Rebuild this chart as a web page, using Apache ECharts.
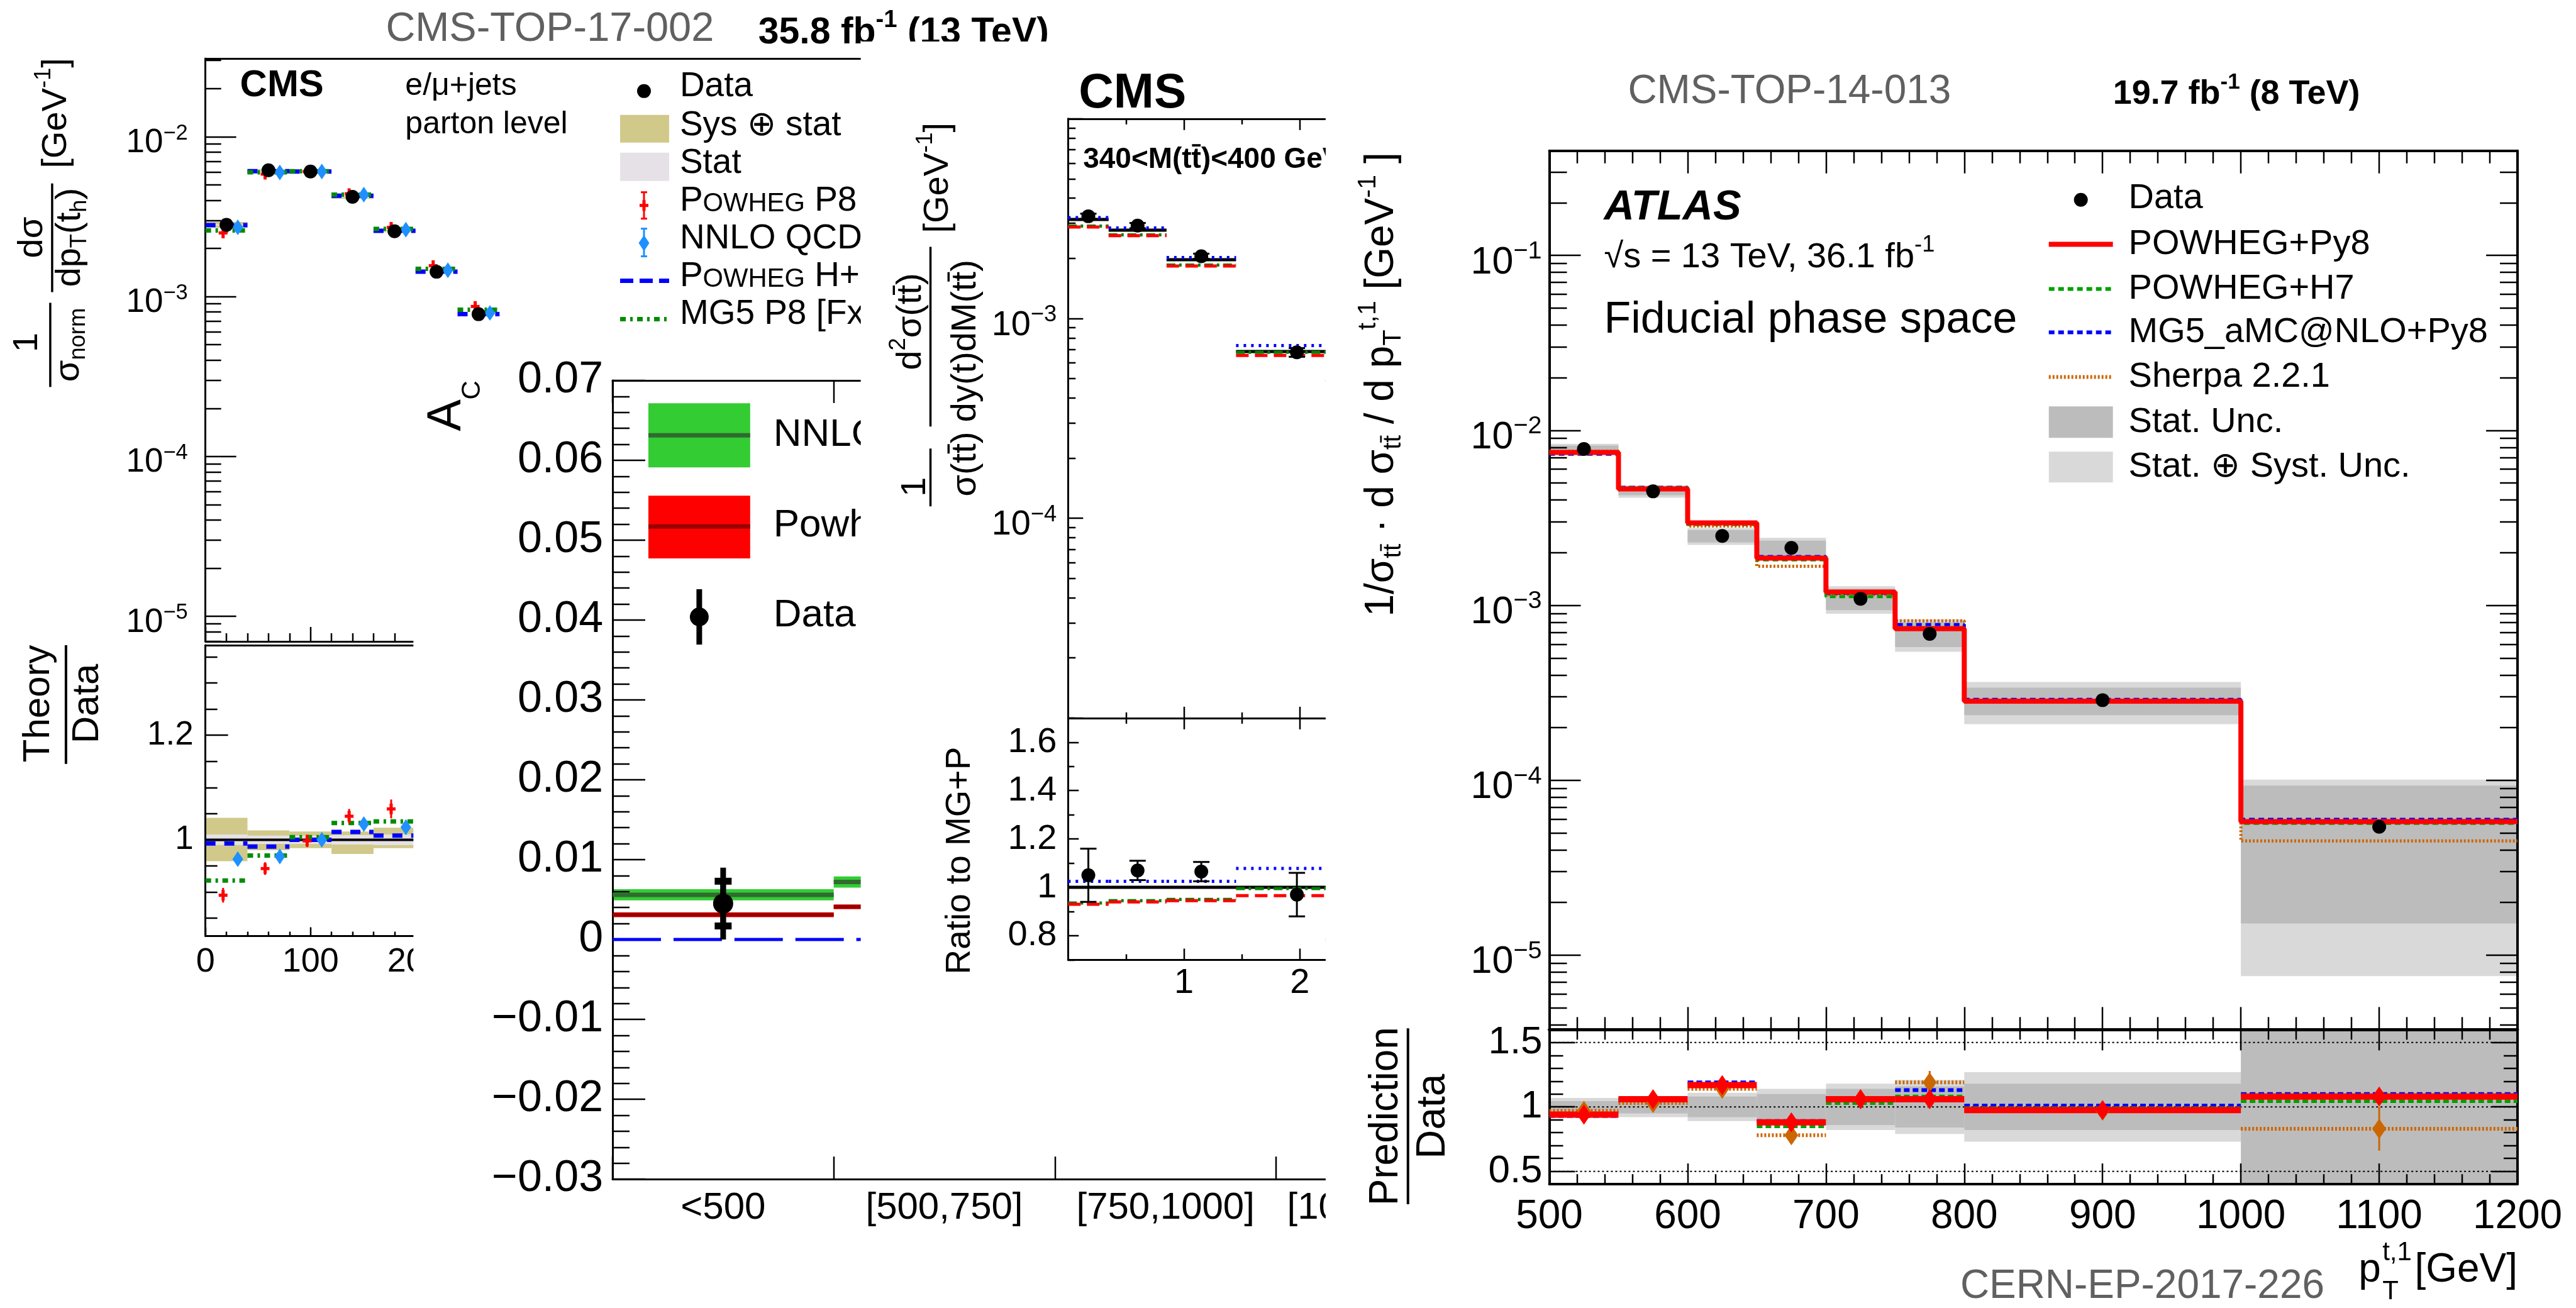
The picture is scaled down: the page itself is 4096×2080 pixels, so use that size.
<!DOCTYPE html>
<html>
<head>
<meta charset="utf-8">
<title>Top-quark differential measurements</title>
<script src="https://cdn.jsdelivr.net/npm/echarts@6.0.0/dist/echarts.min.js"></script>
<style>
html, body { margin: 0; padding: 0; background: #ffffff; overflow: hidden; }
#chart { width: 4096px; height: 2080px; }
</style>
</head>
<body>
<div id="chart"></div>
<script>
// ====================== DATA ======================
// Panel A : CMS-TOP-17-002, normalised d(sigma)/d pT(t_h), parton level
const aBinEdges   = [0, 40, 80, 120, 160, 200, 240, 280];
const aData       = [2.81e-3, 6.17e-3, 6.06e-3, 4.21e-3, 2.56e-3, 1.43e-3, 7.76e-4];
const aPowhegP8   = [2.50e-3, 5.83e-3, 6.05e-3, 4.40e-3, 2.71e-3, 1.56e-3, 8.67e-4];
const aPowhegP8Err= [0.014, 0.012, 0.012, 0.014, 0.018, 0.020, 0.025];
const aNNLO       = [2.71e-3, 5.97e-3, 6.06e-3, 4.34e-3, 2.62e-3, 1.46e-3, 7.90e-4];
const aNNLOErr    = [0.012, 0.010, 0.010, 0.012, 0.014, 0.016, 0.020];
const aPowhegHpp  = [2.80e-3, 6.09e-3, 6.06e-3, 4.27e-3, 2.58e-3, 1.43e-3, 7.76e-4];
const aMG5FxFx    = [2.59e-3, 5.99e-3, 6.09e-3, 4.34e-3, 2.65e-3, 1.49e-3, 8.28e-4];
const aRatioP8    = [0.894, 0.945, 0.998, 1.045, 1.059];
const aRatioP8Err = [0.014, 0.012, 0.012, 0.014, 0.018];
const aRatioNNLO  = [0.963, 0.968, 1.000, 1.030, 1.024];
const aRatioNNLOErr = [0.012, 0.010, 0.010, 0.012, 0.014];
const aRatioHpp   = [0.993, 0.987, 1.000, 1.015, 1.008];
const aRatioMG5   = [0.922, 0.970, 1.005, 1.032, 1.035];
const aSysUp      = [0.042, 0.018, 0.016, 0.016, 0.023];
const aSysDn      = [0.041, 0.020, 0.016, 0.027, 0.016];
const aStat       = [0.010, 0.008, 0.008, 0.009, 0.010];
const aXTickLabels = [0, 100, 200, 300, 400, 500, 600];
const aYDecades    = [-5, -4, -3, -2];
const aRatioTickLabels = [1, 1.2];

// Panel B : charge asymmetry A_C vs M(tt)
const acCategories = ['<500', '[500,750]', '[750,1000]', '[1000,1500]'];
const acNNLO      = [0.0056, 0.0072];
const acNNLOUnc   = [0.0007, 0.0007];
const acPowheg    = [0.0031, 0.0041];
const acPowhegUnc = [0.0003, 0.0003];
const acData      = [0.0045];
const acDataStat  = [0.0028];
const acDataTot   = [0.0045];
const acZeroLine  = 0;
const acYTicks    = [-0.03, -0.02, -0.01, 0, 0.01, 0.02, 0.03, 0.04, 0.05, 0.06, 0.07];

// Panel C : CMS, 340 < M(tt) < 400 GeV, vs y(t)
const cBinEdges     = [0, 0.35, 0.85, 1.45, 2.5];
const cData         = [3.25e-3, 2.92e-3, 2.05e-3, 6.77e-4];
const cDataErr      = [0.03, 0.03, 0.03, 0.05];
const cMGP          = [3.13e-3, 2.77e-3, 1.97e-3, 6.84e-4];
const cBlueDotted   = [3.20e-3, 2.84e-3, 2.02e-3, 7.32e-4];
const cRedDashed    = [2.87e-3, 2.60e-3, 1.83e-3, 6.53e-4];
const cGreenDashDot = [2.90e-3, 2.62e-3, 1.85e-3, 6.77e-4];
const cRatioData    = [1.05, 1.07, 1.065, 0.97];
const cRatioDataErr = [0.11, 0.04, 0.04, 0.09];
const cRatioBlue    = [1.025, 1.025, 1.025, 1.078];
const cRatioRed     = [0.930, 0.940, 0.945, 0.966];
const cRatioGreen   = [0.935, 0.945, 0.950, 0.995];
const cXTickLabels  = [1, 2];
const cYDecades     = [-5, -4, -3, -2];
const cYLabelled    = [-4, -3];
const cRatioTickLabels = [0.8, 1, 1.2, 1.4, 1.6];

// Panel D : ATLAS, 1/sigma dsigma/dpT(t,1), fiducial
const dBinEdges      = [500, 550, 600, 650, 700, 750, 800, 1000, 1200];
const dData          = [7.83e-3, 4.48e-3, 2.49e-3, 2.13e-3, 1.09e-3, 6.87e-4, 2.87e-4, 5.42e-5];
const dPowhegPy8     = [7.48e-3, 4.63e-3, 2.96e-3, 1.86e-3, 1.19e-3, 7.35e-4, 2.83e-4, 5.80e-5];
const dPowhegH7      = [7.40e-3, 4.70e-3, 2.90e-3, 1.82e-3, 1.12e-3, 7.45e-4, 2.84e-4, 5.67e-5];
const dMG5Py8        = [7.30e-3, 4.72e-3, 2.96e-3, 1.90e-3, 1.17e-3, 7.75e-4, 2.90e-4, 5.97e-5];
const dSherpa        = [7.60e-3, 4.62e-3, 2.84e-3, 1.67e-3, 1.15e-3, 8.15e-4, 2.79e-4, 4.50e-5];
const dStatRel       = [0.045, 0.05, 0.08, 0.10, 0.14, 0.16, 0.18, 0.72];
const dTotRel        = [0.07, 0.08, 0.11, 0.14, 0.18, 0.21, 0.27, 0.86];
const dRatioPowhegPy8= [0.94, 1.06, 1.17, 0.88, 1.06, 1.06, 0.975, 1.08];
const dRatioPowhegH7 = [0.94, 1.05, 1.17, 0.85, 1.03, 1.08, 0.99, 1.045];
const dRatioMG5Py8   = [0.93, 1.06, 1.19, 0.89, 1.07, 1.13, 1.01, 1.10];
const dRatioSherpa   = [0.97, 1.03, 1.14, 0.78, 1.06, 1.19, 0.97, 0.83];
const dRatioPy8Err   = [0.02, 0.02, 0.03, 0.03, 0.03, 0.05, 0.03, 0.05];
const dRatioSherpaErr= [0.03, 0.03, 0.04, 0.04, 0.03, 0.09, 0.03, 0.17];
const dRatioRefLines = [0.5, 1, 1.5];
const dXTickLabels   = [500, 600, 700, 800, 900, 1000, 1100, 1200];
const dYDecades      = [-5, -4, -3, -2, -1];
const dRatioTickLabels = [0.5, 1, 1.5];

// ====================== HELPERS ======================
const S = 0.999;
const px = v => v * S;
const FONT = '"Liberation Sans", Arial, Helvetica, sans-serif';
const L10 = Math.log10;

function stepTicks(a, b, step, excl) {
  const out = []; const n = Math.round((b - a) / step);
  for (let i = 0; i <= n; i++) {
    const v = +(a + i * step).toFixed(6);
    if (!excl || !excl.some(e => Math.abs(e - v) < 1e-9)) out.push(v);
  }
  return out;
}
function logMinor(lo, hi) {
  const out = [];
  for (let n = Math.floor(lo) - 1; n <= Math.ceil(hi); n++)
    for (let k = 2; k <= 9; k++) { const v = n + L10(k); if (v > lo && v < hi) out.push(v); }
  return out;
}
const cen = (e, i, f) => (e[i] + e[i + 1]) / 2 + (f || 0) * (e[i + 1] - e[i]);

function axRich(F) {
  const f = px(F);
  return {
    m: {fontSize: f, fontFamily: FONT, color: '#000', lineHeight: f, padding: [0.38 * f, 0, 0, 0], verticalAlign: 'middle'},
    s: {fontSize: 0.65 * f, fontFamily: FONT, color: '#000', lineHeight: 0.65 * f, padding: [0, 0, 0.2 * f, 0], verticalAlign: 'middle'}
  };
}
const pow10 = v => '{m|10}{s|\u2212' + Math.round(-v) + '}';
const plain = v => String(v);

const xAxes = [], yAxes = [], series = [], graphics = [];
function ax(o) {
  const a = {
    type: 'value', gridIndex: o.g, position: o.pos, min: o.min, max: o.max, z: o.z, silent: true,
    axisLine: {show: !!o.line, onZero: false, lineStyle: {color: '#000', width: px(o.lw || 3)}},
    axisTick: o.ticks ? {show: true, inside: true, length: px(o.len), customValues: o.ticks,
      lineStyle: {color: '#000', width: px(o.tw || 2.5)}} : {show: false},
    axisLabel: {show: false},
    splitLine: {show: false}, minorTick: {show: false}, minorSplitLine: {show: false}
  };
  if (o.labels) a.axisLabel = {show: true, customValues: o.labels, formatter: o.fmt, margin: px(o.margin),
    fontSize: px(o.fs), fontFamily: FONT, color: '#000', rich: o.rich};
  return a;
}
const addX = o => { xAxes.push(ax(o)); return xAxes.length - 1; };
const addY = o => { yAxes.push(ax(o)); return yAxes.length - 1; };

function segSeries(xi, yi, segs, st, z) {
  return {type: 'custom', xAxisIndex: xi, yAxisIndex: yi, z, silent: true, clip: true, data: segs,
    renderItem(params, api) {
      const a = api.coord([api.value(0), api.value(2)]), b = api.coord([api.value(1), api.value(2)]);
      return {type: 'line', shape: {x1: a[0], y1: a[1], x2: b[0], y2: b[1]},
        style: {stroke: st.color, lineWidth: px(st.w), lineDash: st.dash ? st.dash.map(px) : null, lineCap: 'butt'}};
    }};
}
function bandSeries(xi, yi, rects, fill, z) {
  return {type: 'custom', xAxisIndex: xi, yAxisIndex: yi, z, silent: true, clip: true, data: rects,
    renderItem(params, api) {
      const a = api.coord([api.value(0), api.value(3)]), b = api.coord([api.value(1), api.value(2)]);
      return {type: 'rect', shape: {x: a[0], y: a[1], width: b[0] - a[0], height: b[1] - a[1]}, style: {fill}};
    }};
}
function markerSeries(xi, yi, pts, m, z) {
  return {type: 'custom', xAxisIndex: xi, yAxisIndex: yi, z, silent: true, clip: !!m.clip, data: pts,
    renderItem(params, api) {
      const x = api.value(0);
      const c = api.coord([x, api.value(1)]);
      const kids = [];
      const col = m.color;
      if (m.errW) {
        const lo = api.coord([x, api.value(2)]), hi = api.coord([x, api.value(3)]);
        kids.push({type: 'line', shape: {x1: c[0], y1: lo[1], x2: c[0], y2: hi[1]}, style: {stroke: col, lineWidth: px(m.errW)}});
        if (m.capW) {
          const h = px(m.capW) / 2;
          [lo, hi].forEach(p => kids.push({type: 'line', shape: {x1: c[0] - h, y1: p[1], x2: c[0] + h, y2: p[1]},
            style: {stroke: col, lineWidth: px(m.capT || m.errW)}}));
        }
      }
      const w = px(m.w || 0), h = px(m.h || m.w || 0);
      if (m.shape === 'circle') kids.push({type: 'circle', shape: {cx: c[0], cy: c[1], r: w / 2}, style: {fill: col}});
      else if (m.shape === 'diamond') kids.push({type: 'polygon', shape: {points: [[c[0], c[1] - h / 2], [c[0] + w / 2, c[1]], [c[0], c[1] + h / 2], [c[0] - w / 2, c[1]]]}, style: {fill: col}});
      else if (m.shape === 'cross') {
        const t = px(m.t);
        kids.push({type: 'rect', shape: {x: c[0] - w / 2, y: c[1] - t / 2, width: w, height: t}, style: {fill: col}});
        kids.push({type: 'rect', shape: {x: c[0] - t / 2, y: c[1] - h / 2, width: t, height: h}, style: {fill: col}});
      }
      return {type: 'group', children: kids};
    }};
}
function stepSeries(xi, yi, edges, vals, st, z) {
  const pts = vals.map((v, i) => [edges[i], L10(v)]);
  pts.push([edges[edges.length - 1], L10(vals[vals.length - 1])]);
  return {type: 'line', xAxisIndex: xi, yAxisIndex: yi, z, silent: true, step: 'end', symbol: 'none',
    data: pts, clip: true, lineStyle: {color: st.color, width: px(st.w), type: st.dash ? st.dash.map(px) : 'solid', cap: 'butt'}};
}

// graphic helpers
function rs(f, o) {
  const base = {fontFamily: o.family || FONT, fontWeight: o.weight || 'normal', fontStyle: o.italic ? 'italic' : 'normal',
    fill: o.color || '#000', verticalAlign: 'middle'};
  return {
    m: Object.assign({}, base, {fontSize: f, lineHeight: f}),
    s: Object.assign({}, base, {fontSize: 0.65 * f, lineHeight: 0.65 * f, padding: [0, 0, 0.7 * f, 0]}),
    b: Object.assign({}, base, {fontSize: 0.65 * f, lineHeight: 0.65 * f, padding: [0.55 * f, 0, 0, 0]}),
    k: Object.assign({}, base, {fontSize: 0.76 * f, lineHeight: 0.76 * f, padding: [0.17 * f, 0, 0, 0]})
  };
}
function gtext(x, y, text, F, o) {
  o = o || {};
  const f = px(F);
  return {type: 'text', x: px(x), y: px(y), rotation: o.rot ? Math.PI / 2 : 0, z: o.z, silent: true,
    style: {text, x: 0, y: 0, fontSize: f, fontFamily: o.family || FONT, fontWeight: o.weight || 'normal',
      fontStyle: o.italic ? 'italic' : 'normal', fill: o.color || '#000',
      align: o.align || 'left', verticalAlign: 'middle', rich: rs(f, o)}};
}
const gline = (x1, y1, x2, y2, color, w, z, dash) => ({type: 'line', z, silent: true,
  shape: {x1: px(x1), y1: px(y1), x2: px(x2), y2: px(y2)},
  style: {stroke: color, lineWidth: px(w), lineDash: dash ? dash.map(px) : null}});
const grect = (x, y, w, h, fill, z) => ({type: 'rect', z, silent: true, shape: {x: px(x), y: px(y), width: px(w), height: px(h)}, style: {fill}});
const gcircle = (cx, cy, r, fill, z) => ({type: 'circle', z, silent: true, shape: {cx: px(cx), cy: px(cy), r: px(r)}, style: {fill}});
const gpoly = (pts, fill, z) => ({type: 'polygon', z, silent: true, shape: {points: pts.map(p => [px(p[0]), px(p[1])])}, style: {fill}});

// ====================== GRIDS ======================
const GR = [
  [327, 93, 1070, 928],      // 0 A top
  [327, 1027, 1070, 463],    // 1 A ratio
  [975, 605.5, 1408, 1271.5],// 2 B
  [1700, 189, 461, 954],     // 3 C top
  [1700, 1143, 461, 385],    // 4 C ratio
  [2466, 240, 1541, 1399],   // 5 D top
  [2466, 1639, 1541, 246]    // 6 D ratio
];
const grids = GR.map(g => ({left: px(g[0]), top: px(g[1]), width: px(g[2]), height: px(g[3]), containLabel: false, show: false}));

const KHAKI = '#d0c98a', LAV = '#e6e1e7';

// ====================== PANEL A ======================
{
  const Z = 3;
  const aYmin = -5.157, aYmax = -1.5104, aRmin = 0.816, aRmax = 1.372;
  const x = addX({g: 0, pos: 'bottom', min: 0, max: 640, z: Z, line: true, ticks: aXTickLabels, len: 23});
  addX({g: 0, pos: 'bottom', min: 0, max: 640, z: Z, ticks: stepTicks(0, 640, 20, aXTickLabels), len: 13});
  addX({g: 0, pos: 'top', min: 0, max: 640, z: Z, line: true});
  const y = addY({g: 0, pos: 'left', min: aYmin, max: aYmax, z: Z, line: true, ticks: aYDecades, len: 49,
    labels: aYDecades, fmt: pow10, fs: 53, margin: 28, rich: axRich(53)});
  addY({g: 0, pos: 'left', min: aYmin, max: aYmax, z: Z, ticks: logMinor(aYmin, aYmax), len: 25});
  const rx = addX({g: 1, pos: 'bottom', min: 0, max: 640, z: Z, line: true, ticks: aXTickLabels, len: 14,
    labels: aXTickLabels, fmt: plain, fs: 54, margin: 15});
  addX({g: 1, pos: 'bottom', min: 0, max: 640, z: Z, ticks: stepTicks(0, 640, 20, aXTickLabels), len: 7});
  addX({g: 1, pos: 'top', min: 0, max: 640, z: Z, line: true});
  const ry = addY({g: 1, pos: 'left', min: aRmin, max: aRmax, z: Z, line: true, ticks: aRatioTickLabels, len: 36,
    labels: aRatioTickLabels, fmt: plain, fs: 53, margin: 19});
  addY({g: 1, pos: 'left', min: aRmin, max: aRmax, z: Z, ticks: stepTicks(0.85, 1.35, 0.05, aRatioTickLabels), len: 19});

  const E = aBinEdges;
  // top pad
  series.push(bandSeries(x, y, aSysUp.map((u, i) => [E[i], E[i + 1], L10(aData[i] * (1 - aSysDn[i])), L10(aData[i] * (1 + u))]), KHAKI, 2));
  series.push(bandSeries(x, y, aStat.map((s, i) => [E[i], E[i + 1], L10(aData[i] * (1 - s)), L10(aData[i] * (1 + s))]), LAV, 2));
  series.push(segSeries(x, y, aPowhegHpp.map((v, i) => [E[i], E[i + 1], L10(v)]), {color: '#0000ff', w: 7, dash: [16, 14]}, 4));
  series.push(segSeries(x, y, aMG5FxFx.map((v, i) => [E[i], E[i + 1], L10(v)]), {color: '#008c00', w: 7, dash: [9, 7, 4, 7]}, 4));
  series.push(markerSeries(x, y, aPowhegP8.map((v, i) => [cen(E, i, -0.08), L10(v), L10(v * (1 - aPowhegP8Err[i])), L10(v * (1 + aPowhegP8Err[i]))]),
    {shape: 'cross', w: 14, h: 17, t: 5, color: '#ff0000', errW: 3}, 5));
  series.push(markerSeries(x, y, aNNLO.map((v, i) => [cen(E, i, 0.27), L10(v), L10(v * (1 - aNNLOErr[i])), L10(v * (1 + aNNLOErr[i]))]),
    {shape: 'diamond', w: 17, h: 25, color: '#1e90ff', errW: 3}, 5));
  series.push(markerSeries(x, y, aData.map((v, i) => [cen(E, i, 0), L10(v), L10(v), L10(v)]), {shape: 'circle', w: 22, color: '#000'}, 6));
  // ratio pad
  series.push(bandSeries(rx, ry, aSysUp.map((u, i) => [E[i], E[i + 1], 1 - aSysDn[i], 1 + u]), KHAKI, 2));
  series.push(bandSeries(rx, ry, aStat.map((s, i) => [E[i], E[i + 1], 1 - s, 1 + s]), LAV, 2));
  series.push(segSeries(rx, ry, [[0, 640, 1]], {color: '#000', w: 4}, 4));
  series.push(segSeries(rx, ry, aRatioHpp.map((v, i) => [E[i], E[i + 1], v]), {color: '#0000ff', w: 7, dash: [16, 14]}, 4));
  series.push(segSeries(rx, ry, aRatioMG5.map((v, i) => [E[i], E[i + 1], v]), {color: '#008c00', w: 7, dash: [9, 7, 4, 7]}, 4));
  series.push(markerSeries(rx, ry, aRatioP8.map((v, i) => [cen(E, i, -0.08), v, v - aRatioP8Err[i], v + aRatioP8Err[i]]),
    {shape: 'cross', w: 14, h: 17, t: 5, color: '#ff0000', errW: 3}, 5));
  series.push(markerSeries(rx, ry, aRatioNNLO.map((v, i) => [cen(E, i, 0.27), v, v - aRatioNNLOErr[i], v + aRatioNNLOErr[i]]),
    {shape: 'diamond', w: 17, h: 25, color: '#1e90ff', errW: 3}, 5));

  const T = 8;
  graphics.push(gtext(614, 47, '{m|CMS-TOP-17-002}', 65, {color: '#606060', z: T}));
  graphics.push(gtext(1207, 53, '{m|35.8 fb}{s|-1}{m| (13 TeV)}', 59, {weight: 'bold', z: T}));
  graphics.push(gtext(382, 137, '{m|CMS}', 60, {weight: 'bold', z: T}));
  graphics.push(gtext(645, 137, '{m|e/\u03bc+jets}', 50, {z: T}));
  graphics.push(gtext(645, 198, '{m|parton level}', 50, {z: T}));
  // legend
  graphics.push(gcircle(1025, 145, 11, '#000', T));
  graphics.push(grect(987, 183, 78, 44, KHAKI, T));
  graphics.push(grect(987, 243, 78, 45, LAV, T));
  graphics.push(gline(1025, 306, 1025, 348, '#ff0000', 3, T), gline(1020, 306, 1030, 306, '#ff0000', 3, T), gline(1020, 348, 1030, 348, '#ff0000', 3, T));
  graphics.push(grect(1018, 324.5, 14, 5, '#ff0000', T), grect(1022.5, 318.5, 5, 17, '#ff0000', T));
  graphics.push(gline(1025, 364, 1025, 408, '#1e90ff', 3, T), gline(1020, 364, 1030, 364, '#1e90ff', 3, T), gline(1020, 408, 1030, 408, '#1e90ff', 3, T));
  graphics.push(gpoly([[1025, 374], [1033.5, 387], [1025, 400], [1016.5, 387]], '#1e90ff', T));
  graphics.push(gline(987, 447, 1065, 447, '#0000ff', 7, T, [21, 10]));
  graphics.push(gline(987, 508, 1065, 508, '#008c00', 7, T, [9, 7, 4, 7]));
  const LX = 1082;
  graphics.push(gtext(LX, 138, '{m|Data}', 55, {z: T}));
  graphics.push(gtext(LX, 200, '{m|Sys \u2295 stat}', 55, {z: T}));
  graphics.push(gtext(LX, 260, '{m|Stat}', 55, {z: T}));
  graphics.push(gtext(LX, 320, '{m|P}{k|OWHEG}{m| P8}', 55, {z: T}));
  graphics.push(gtext(LX, 380, '{m|NNLO QCD}', 55, {z: T}));
  graphics.push(gtext(LX, 440, '{m|P}{k|OWHEG}{m| H++}', 55, {z: T}));
  graphics.push(gtext(LX, 500, '{m|MG5 P8 [FxFx]}', 55, {z: T}));
  // y titles
  graphics.push(gtext(90, 180, '{m|[GeV}{s|-1}{m|]}', 56, {rot: true, align: 'center', z: T}));
  graphics.push(gtext(52, 378, '{m|d\u03c3}', 56, {rot: true, align: 'center', z: T}));
  graphics.push(gline(83, 292, 83, 465, '#000', 3.5, T));
  graphics.push(gtext(112, 378, '{m|dp}{b|T}{m|(t}{b|h}{m|)}', 56, {rot: true, align: 'center', z: T}));
  graphics.push(gtext(44, 545, '{m|1}', 56, {rot: true, align: 'center', z: T}));
  graphics.push(gline(80, 482, 80, 616, '#000', 3.5, T));
  graphics.push(gtext(110, 549, '{m|\u03c3}{b|norm}', 56, {rot: true, align: 'center', z: T}));
  graphics.push(gtext(62, 1120, '{m|Theory}', 60, {rot: true, align: 'center', z: T}));
  graphics.push(gline(105, 1027, 105, 1216, '#000', 4, T));
  graphics.push(gtext(140, 1120, '{m|Data}', 60, {rot: true, align: 'center', z: T}));
}

// white background of panel B (collage layer)
graphics.push(grect(658, 562, 1452, 1519, '#ffffff', 10));

// ====================== PANEL B ======================
{
  const Z = 13;
  const nC = acCategories.length;
  const catTicks = stepTicks(0, nC, 1);
  const catCenters = stepTicks(0.5, nC - 0.5, 1);
  const x = addX({g: 2, pos: 'bottom', min: 0, max: nC, z: Z, line: true, ticks: catTicks, len: 36,
    labels: catCenters, fmt: v => acCategories[Math.floor(v)], fs: 60, margin: 16});
  addX({g: 2, pos: 'top', min: 0, max: nC, z: Z, line: true, ticks: catTicks, len: 36});
  const y = addY({g: 2, pos: 'left', min: -0.03, max: 0.07, z: Z, line: true, ticks: acYTicks, len: 52,
    labels: acYTicks, fs: 70, margin: 15,
    fmt: v => Math.abs(v) < 1e-9 ? '0' : (v < 0 ? '\u2212' : '') + Math.abs(v).toFixed(2)});
  addY({g: 2, pos: 'left', min: -0.03, max: 0.07, z: Z, ticks: stepTicks(-0.03, 0.07, 0.002, acYTicks), len: 27});

  series.push(bandSeries(x, y, acNNLO.map((v, i) => [i, i + 1, v - acNNLOUnc[i], v + acNNLOUnc[i]]), '#33cc33', 12));
  series.push(bandSeries(x, y, acPowheg.map((v, i) => [i, i + 1, v - acPowhegUnc[i], v + acPowhegUnc[i]]), '#ff0000', 12));
  series.push(segSeries(x, y, acNNLO.map((v, i) => [i, i + 1, v]), {color: '#2f6b2f', w: 7}, 14));
  series.push(segSeries(x, y, acPowheg.map((v, i) => [i, i + 1, v]), {color: '#990000', w: 6}, 14));
  series.push(segSeries(x, y, [[0, nC, acZeroLine]], {color: '#0000ff', w: 5, dash: [77, 20]}, 14));
  series.push(markerSeries(x, y, acData.map((v, i) => [i + 0.5, v, v - acDataTot[i], v + acDataTot[i]]), {shape: 'circle', w: 32, color: '#000', errW: 9}, 16));
  series.push(markerSeries(x, y, acData.map((v, i) => [i + 0.5, v, v - acDataStat[i], v + acDataStat[i]]), {shape: 'none', color: '#000', errW: 9, capW: 27, capT: 11}, 16));

  const T = 18;
  graphics.push(gtext(712, 661, '{m|A}', 76, {rot: true, align: 'center', z: T}));
  graphics.push(gtext(752, 621, '{m|C}', 42, {rot: true, align: 'center', z: T}));
  graphics.push(grect(1032, 642, 162, 102, '#33cc33', T), gline(1032, 693, 1194, 693, '#2f6b2f', 7, T));
  graphics.push(grect(1032, 789, 162, 100, '#ff0000', T), gline(1032, 838, 1194, 838, '#990000', 7, T));
  graphics.push(gline(1113, 938, 1113, 1026, '#000', 9, T), gcircle(1113, 982, 15, '#000', T));
  graphics.push(gtext(1231, 693, '{m|NNLO}', 62, {z: T}));
  graphics.push(gtext(1231, 837, '{m|Powheg}', 62, {z: T}));
  graphics.push(gtext(1231, 980, '{m|Data}', 62, {z: T}));
}

// white background of panel C
graphics.push(grect(1370, 66, 740, 1544, '#ffffff', 20));

// ====================== PANEL C ======================
{
  const Z = 23;
  const cMinor = stepTicks(0.5, 2.5, 1);
  const x = addX({g: 3, pos: 'bottom', min: 0, max: 2.5, z: Z, line: true, ticks: cXTickLabels, len: 18});
  addX({g: 3, pos: 'bottom', min: 0, max: 2.5, z: Z, ticks: cMinor, len: 9});
  addX({g: 3, pos: 'top', min: 0, max: 2.5, z: Z, line: true, ticks: cXTickLabels, len: 18});
  addX({g: 3, pos: 'top', min: 0, max: 2.5, z: Z, ticks: cMinor, len: 9});
  const y = addY({g: 3, pos: 'left', min: -5, max: -2, z: Z, line: true, ticks: cYDecades, len: 24,
    labels: cYLabelled, fmt: pow10, fs: 56, margin: 18, rich: axRich(56)});
  addY({g: 3, pos: 'left', min: -5, max: -2, z: Z, ticks: logMinor(-5, -2), len: 12});
  const rx = addX({g: 4, pos: 'bottom', min: 0, max: 2.5, z: Z, line: true, ticks: cXTickLabels, len: 18,
    labels: cXTickLabels, fmt: plain, fs: 56, margin: 9});
  addX({g: 4, pos: 'bottom', min: 0, max: 2.5, z: Z, ticks: cMinor, len: 9});
  addX({g: 4, pos: 'top', min: 0, max: 2.5, z: Z, ticks: cXTickLabels, len: 18});
  addX({g: 4, pos: 'top', min: 0, max: 2.5, z: Z, ticks: cMinor, len: 9});
  const ry = addY({g: 4, pos: 'left', min: 0.7, max: 1.7, z: Z, line: true, ticks: cRatioTickLabels, len: 17,
    labels: cRatioTickLabels, fmt: plain, fs: 56, margin: 18});
  addY({g: 4, pos: 'left', min: 0.7, max: 1.7, z: Z, ticks: stepTicks(0.7, 1.7, 0.1, cRatioTickLabels), len: 10});

  const E = cBinEdges;
  const seg = (vals, lg) => vals.map((v, i) => [E[i], E[i + 1], lg ? L10(v) : v]);
  const BLUE = {color: '#0000ff', w: 5, dash: [4, 8]}, RED = {color: '#ff0000', w: 5, dash: [20, 10]},
        GREEN = {color: '#008000', w: 5, dash: [14, 6, 4, 6]}, BLACK = {color: '#000', w: 5};
  series.push(segSeries(x, y, seg(cMGP, true), BLACK, 24));
  series.push(segSeries(x, y, seg(cGreenDashDot, true), GREEN, 24));
  series.push(segSeries(x, y, seg(cRedDashed, true), RED, 24));
  series.push(segSeries(x, y, seg(cBlueDotted, true), BLUE, 24));
  series.push(markerSeries(x, y, cData.map((v, i) => [cen(E, i, 0), L10(v), L10(v * (1 - cDataErr[i])), L10(v * (1 + cDataErr[i]))]),
    {shape: 'circle', w: 22, color: '#000', errW: 3, capW: 26, capT: 3}, 26));
  series.push(segSeries(rx, ry, [[0, 2.5, 1]], BLACK, 24));
  series.push(segSeries(rx, ry, seg(cRatioGreen), GREEN, 24));
  series.push(segSeries(rx, ry, seg(cRatioRed), RED, 24));
  series.push(segSeries(rx, ry, seg(cRatioBlue), BLUE, 24));
  series.push(markerSeries(rx, ry, cRatioData.map((v, i) => [cen(E, i, 0), v, v - cRatioDataErr[i], v + cRatioDataErr[i]]),
    {shape: 'circle', w: 22, color: '#000', errW: 3, capW: 26, capT: 3}, 26));

  const T = 28;
  graphics.push(gtext(1717, 150, '{m|CMS}', 77, {weight: 'bold', z: T}));
  graphics.push(gtext(1724, 255, '{m|340<M(tt\u0304)<400 GeV}', 46, {weight: 'bold', z: T}));
  graphics.push(gtext(1493, 283, '{m|[GeV}{s|-1}{m|]}', 56, {rot: true, align: 'center', z: T}));
  graphics.push(gtext(1450, 512, '{m|d}{s|2}{m|\u03c3(tt\u0304)}', 56, {rot: true, align: 'center', z: T}));
  graphics.push(gline(1481, 393, 1481, 679, '#000', 3.5, T));
  graphics.push(gtext(1457, 775, '{m|1}', 56, {rot: true, align: 'center', z: T}));
  graphics.push(gline(1481, 714, 1481, 806, '#000', 3.5, T));
  graphics.push(gtext(1537, 602, '{m|\u03c3(tt\u0304) dy(t)dM(tt\u0304)}', 56, {rot: true, align: 'center', z: T}));
  graphics.push(gtext(1528, 1370, '{m|Ratio to MG+P}', 55, {rot: true, align: 'center', z: T}));
}

// white background of panel D
graphics.push(grect(2110, 0, 1988, 2081, '#ffffff', 30));

// ====================== PANEL D ======================
{
  const Z = 33;
  const yMin = -5.4255, yMax = -0.402;
  const xMinor = stepTicks(500, 1200, 20, dXTickLabels);
  const x = addX({g: 5, pos: 'bottom', min: 500, max: 1200, z: Z, line: true, lw: 4, ticks: dXTickLabels, len: 36});
  addX({g: 5, pos: 'bottom', min: 500, max: 1200, z: Z, ticks: xMinor, len: 20});
  addX({g: 5, pos: 'top', min: 500, max: 1200, z: Z, line: true, lw: 4, ticks: dXTickLabels, len: 36});
  addX({g: 5, pos: 'top', min: 500, max: 1200, z: Z, ticks: xMinor, len: 20});
  const y = addY({g: 5, pos: 'left', min: yMin, max: yMax, z: Z, line: true, lw: 4, ticks: dYDecades, len: 50,
    labels: dYDecades, fmt: pow10, fs: 61, margin: 12, rich: axRich(61)});
  addY({g: 5, pos: 'left', min: yMin, max: yMax, z: Z, ticks: logMinor(yMin, yMax), len: 28});
  addY({g: 5, pos: 'right', min: yMin, max: yMax, z: Z, line: true, lw: 4, ticks: dYDecades, len: 50});
  addY({g: 5, pos: 'right', min: yMin, max: yMax, z: Z, ticks: logMinor(yMin, yMax), len: 28});
  const rx = addX({g: 6, pos: 'bottom', min: 500, max: 1200, z: Z, line: true, lw: 4, ticks: dXTickLabels, len: 33,
    labels: dXTickLabels, fmt: plain, fs: 64, margin: 20});
  addX({g: 6, pos: 'bottom', min: 500, max: 1200, z: Z, ticks: xMinor, len: 16});
  addX({g: 6, pos: 'top', min: 500, max: 1200, z: Z, line: true, lw: 5, ticks: dXTickLabels, len: 33});
  addX({g: 6, pos: 'top', min: 500, max: 1200, z: Z, ticks: xMinor, len: 16});
  const rMinor = stepTicks(0.4, 1.6, 0.1, dRatioTickLabels);
  const ry = addY({g: 6, pos: 'left', min: 0.4, max: 1.6, z: Z, line: true, lw: 4, ticks: dRatioTickLabels, len: 41,
    labels: dRatioTickLabels, fmt: plain, fs: 62, margin: 11});
  addY({g: 6, pos: 'left', min: 0.4, max: 1.6, z: Z, ticks: rMinor, len: 22});
  addY({g: 6, pos: 'right', min: 0.4, max: 1.6, z: Z, line: true, lw: 4, ticks: dRatioTickLabels, len: 41});
  addY({g: 6, pos: 'right', min: 0.4, max: 1.6, z: Z, ticks: rMinor, len: 22});

  const E = dBinEdges;
  const TOT = '#d9d9d9', STAT = '#bcbcbc';
  const RED = {color: '#ff0000', w: 8}, GREEN = {color: '#00a000', w: 5, dash: [9, 6]},
        BLUE = {color: '#0000ff', w: 5, dash: [9, 6]}, ORANGE = {color: '#cc6600', w: 5, dash: [3, 3]};
  series.push(bandSeries(x, y, dData.map((v, i) => [E[i], E[i + 1], L10(v * (1 - dTotRel[i])), L10(v * (1 + dTotRel[i]))]), TOT, 32));
  series.push(bandSeries(x, y, dData.map((v, i) => [E[i], E[i + 1], L10(v * (1 - dStatRel[i])), L10(v * (1 + dStatRel[i]))]), STAT, 32));
  series.push(stepSeries(x, y, E, dSherpa, ORANGE, 34));
  series.push(stepSeries(x, y, E, dMG5Py8, BLUE, 34));
  series.push(stepSeries(x, y, E, dPowhegH7, GREEN, 34));
  series.push(stepSeries(x, y, E, dPowhegPy8, RED, 35));
  series.push(markerSeries(x, y, dData.map((v, i) => [cen(E, i, 0), L10(v), L10(v), L10(v)]), {shape: 'circle', w: 22, color: '#000'}, 36));
  // ratio
  series.push(bandSeries(rx, ry, dTotRel.map((r, i) => [E[i], E[i + 1], 1 - r, 1 + r]), TOT, 32));
  series.push(bandSeries(rx, ry, dStatRel.map((r, i) => [E[i], E[i + 1], 1 - r, 1 + r]), STAT, 32));
  series.push(segSeries(rx, ry, dRatioRefLines.map(v => [500, 1200, v]), {color: '#000', w: 2, dash: [3, 4]}, 33));
  const rseg = vals => vals.map((v, i) => [E[i], E[i + 1], v]);
  series.push(segSeries(rx, ry, rseg(dRatioSherpa), {color: '#cc6600', w: 6, dash: [3, 3]}, 34));
  series.push(segSeries(rx, ry, rseg(dRatioMG5Py8), {color: '#0000ff', w: 6, dash: [9, 5]}, 34));
  series.push(segSeries(rx, ry, rseg(dRatioPowhegH7), {color: '#00a000', w: 6, dash: [9, 5]}, 34));
  series.push(segSeries(rx, ry, rseg(dRatioPowhegPy8), {color: '#ff0000', w: 10}, 35));
  series.push(markerSeries(rx, ry, dRatioSherpa.map((v, i) => [cen(E, i, 0), v, v - dRatioSherpaErr[i], v + dRatioSherpaErr[i]]),
    {shape: 'diamond', w: 22, h: 32, color: '#cc6600', errW: 3, clip: true}, 36));
  series.push(markerSeries(rx, ry, dRatioPowhegPy8.map((v, i) => [cen(E, i, 0), v, v - dRatioPy8Err[i], v + dRatioPy8Err[i]]),
    {shape: 'diamond', w: 22, h: 32, color: '#ff0000', errW: 3, clip: true}, 36));

  const T = 38;
  graphics.push(gtext(2591, 147, '{m|CMS-TOP-14-013}', 64, {color: '#606060', z: T}));
  graphics.push(gtext(3363, 150, '{m|19.7 fb}{s|-1}{m| (8 TeV)}', 54, {weight: 'bold', z: T}));
  graphics.push(gtext(2553, 331, '{m|ATLAS}', 67, {weight: 'bold', italic: true, z: T}));
  graphics.push(gtext(2553, 410, '{m|\u221as = 13 TeV, 36.1 fb}{s|-1}', 56, {z: T}));
  graphics.push(gtext(2553, 510, '{m|Fiducial phase space}', 70, {z: T}));
  // legend
  graphics.push(gcircle(3312, 318, 11, '#000', T));
  graphics.push(gline(3261, 389, 3363, 389, '#ff0000', 8, T));
  graphics.push(gline(3261, 460, 3363, 460, '#00a000', 6, T, [9, 6]));
  graphics.push(gline(3261, 529, 3363, 529, '#0000ff', 6, T, [9, 6]));
  graphics.push(gline(3261, 600, 3363, 600, '#cc6600', 6, T, [3, 3]));
  graphics.push(grect(3261, 647, 102, 50, STAT, T));
  graphics.push(grect(3261, 719, 102, 49, TOT, T));
  const LX = 3388;
  graphics.push(gtext(LX, 316, '{m|Data}', 56, {z: T}));
  graphics.push(gtext(LX, 389, '{m|POWHEG+Py8}', 56, {z: T}));
  graphics.push(gtext(LX, 460, '{m|POWHEG+H7}', 56, {z: T}));
  graphics.push(gtext(LX, 529, '{m|MG5_aMC@NLO+Py8}', 56, {z: T}));
  graphics.push(gtext(LX, 600, '{m|Sherpa 2.2.1}', 56, {z: T}));
  graphics.push(gtext(LX, 672, '{m|Stat. Unc.}', 56, {z: T}));
  graphics.push(gtext(LX, 743, '{m|Stat. \u2295 Syst. Unc.}', 56, {z: T}));
  // axis titles
  graphics.push(gtext(2200, 612, '{m|1/\u03c3}{b|tt\u0304}{m| \u00b7 d \u03c3}{b|tt\u0304}{m| / d p}{b|T}{s|t,1}{m| [GeV}{s|-1}{m| ]}', 64, {rot: true, align: 'center', z: T}));
  graphics.push(gtext(2207, 1777, '{m|Prediction}', 64, {rot: true, align: 'center', z: T}));
  graphics.push(gline(2241, 1637, 2241, 1917, '#000', 4, T));
  graphics.push(gtext(2282, 1777, '{m|Data}', 64, {rot: true, align: 'center', z: T}));
  graphics.push(gtext(3754, 2022, '{m|p}', 64, {z: T}));
  graphics.push(gtext(3792, 2056, '{m|T}', 42, {z: T}));
  graphics.push(gtext(3792, 1994, '{m|t,1}', 42, {z: T}));
  graphics.push(gtext(4007, 2022, '{m|[GeV]}', 64, {align: 'right', z: T}));
  graphics.push(gtext(3120, 2048, '{m|CERN-EP-2017-226}', 64, {color: '#606060', z: T}));
}

// ====================== CHART ======================
const chart = echarts.init(document.getElementById('chart'), null, {renderer: 'canvas'});
chart.setOption({
  backgroundColor: '#ffffff',
  animation: false,
  textStyle: {fontFamily: FONT},
  grid: grids,
  xAxis: xAxes,
  yAxis: yAxes,
  series: series,
  graphic: {elements: graphics}
});
</script>
</body>
</html>
